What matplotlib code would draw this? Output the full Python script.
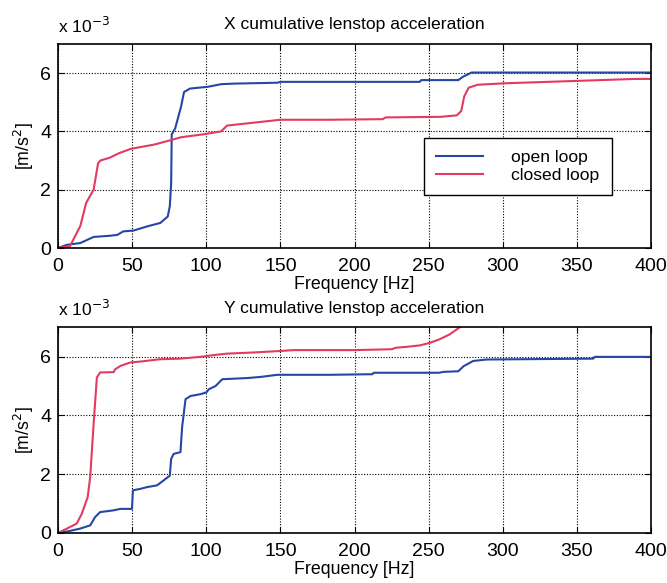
import matplotlib
matplotlib.use("Agg")
import matplotlib.pyplot as plt
import numpy as np

plt.rcParams['font.family'] = ['Liberation Sans', 'DejaVu Sans']

# cumulative acceleration, values in units of 1e-3 m/s^2
x_open_f = [0, 6, 15, 24, 35, 40, 44, 51, 60, 69, 74, 75.4, 76.3, 76.7, 79, 83, 85, 89,
            101, 110, 119, 148, 150, 183, 244, 245, 270, 273, 279, 400]
x_open_a = [0, 0.11, 0.17, 0.38, 0.42, 0.45, 0.57, 0.6, 0.74, 0.86, 1.08, 1.43, 2.2, 3.9,
            4.1, 4.85, 5.35, 5.47, 5.53, 5.62, 5.64, 5.67, 5.7, 5.7, 5.7, 5.76, 5.76, 5.87,
            6.02, 6.02]
x_closed_f = [0, 8, 15, 19, 24, 27, 28.5, 35, 41, 49, 65, 76, 83, 98, 110, 114, 132, 150,
              183, 219, 221, 258, 269, 272, 274, 277, 283, 301, 360, 389, 400]
x_closed_a = [0, 0.06, 0.75, 1.55, 2.0, 2.9, 3.0, 3.1, 3.25, 3.4, 3.55, 3.7, 3.8, 3.9, 4.0,
              4.2, 4.3, 4.4, 4.4, 4.42, 4.48, 4.5, 4.55, 4.7, 5.2, 5.5, 5.6, 5.65, 5.75,
              5.8, 5.8]

y_open_f = [0, 8, 15, 21.7, 25, 28.4, 37.5, 42, 49.9, 50.5, 55.5, 60, 66.8, 71.3, 75.4,
            76.3, 78, 82.6, 83.7, 86, 89.4, 96, 100, 101.8, 106.3, 110.8, 127.8, 137, 148,
            183, 212, 213, 257, 260, 270, 273.5, 280, 289, 361, 362, 400]
y_open_a = [0, 0.07, 0.15, 0.26, 0.54, 0.71, 0.77, 0.82, 0.82, 1.45, 1.5, 1.56, 1.62, 1.79,
            1.95, 2.52, 2.69, 2.75, 3.6, 4.55, 4.66, 4.72, 4.78, 4.89, 5.0, 5.23, 5.27, 5.31,
            5.38, 5.38, 5.4, 5.45, 5.45, 5.48, 5.5, 5.67, 5.85, 5.9, 5.93, 5.99, 5.99]
y_closed_f = [0, 6, 12.6, 16, 20, 21.7, 24, 26.2, 28.4, 37.5, 38.6, 42, 48.8, 55.5, 69,
              82.6, 96, 105, 114, 132, 150, 159, 200, 225, 228, 235, 244, 251, 257, 264,
              270, 276, 285]
y_closed_a = [0, 0.15, 0.32, 0.65, 1.22, 1.9, 3.7, 5.29, 5.46, 5.47, 5.57, 5.68, 5.8, 5.83,
              5.91, 5.93, 5.99, 6.05, 6.1, 6.14, 6.19, 6.22, 6.22, 6.25, 6.3, 6.33, 6.38,
              6.47, 6.58, 6.75, 6.96, 7.2, 7.5]

titles = ['X cumulative lenstop acceleration', 'Y cumulative lenstop acceleration']
BLUE = '#2646a6'
RED = '#e23a62'

fig = plt.figure(figsize=(6.67, 5.83), dpi=100)
ax1 = fig.add_axes([0.087, 0.5746, 0.889, 0.35])
ax2 = fig.add_axes([0.087, 0.0858, 0.889, 0.353])

panels = [(ax1, x_open_f, x_open_a, x_closed_f, x_closed_a),
          (ax2, y_open_f, y_open_a, y_closed_f, y_closed_a)]

for i, (ax, of, oa, cf, ca) in enumerate(panels):
    ax.plot(of, oa, color=BLUE, lw=1.5, label='open loop')
    ax.plot(cf, ca, color=RED, lw=1.5, label='closed loop')
    ax.set_xlim(0, 400)
    ax.set_ylim(0, 7)
    ax.set_xticks(np.arange(0, 401, 50))
    ax.set_yticks([0, 2, 4, 6])
    ax.grid(True, color='black', linestyle=(0, (1, 1.5)), linewidth=0.8)
    ax.tick_params(direction='in', top=True, right=True, labelsize=14, length=4)
    ax.tick_params(axis='x', pad=7)
    ax.tick_params(axis='y', pad=5)
    for s in ax.spines.values():
        s.set_linewidth(1.2)
    ax.set_title(titles[i], fontsize=12.6, pad=11 if i == 0 else 10)
    ax.set_xlabel('Frequency [Hz]', fontsize=12.8, labelpad=1)
    ax.set_ylabel('[m/s$^2$]', fontsize=12.8, labelpad=3)
    ax.text(0.0, 1.04, r'x 10$^{-3}$', transform=ax.transAxes, fontsize=12.5,
            ha='left', va='bottom')

leg = ax1.legend(loc='center left', bbox_to_anchor=(0.617, 0.40), fontsize=12.6,
                 frameon=True, fancybox=False, edgecolor='black', framealpha=1,
                 handlelength=2.7, handletextpad=1.6, borderpad=0.7, labelspacing=0.15,
                 borderaxespad=0)
leg.get_frame().set_linewidth(1.0)

fig.savefig('out.png', dpi=100)
plt.close(fig)
